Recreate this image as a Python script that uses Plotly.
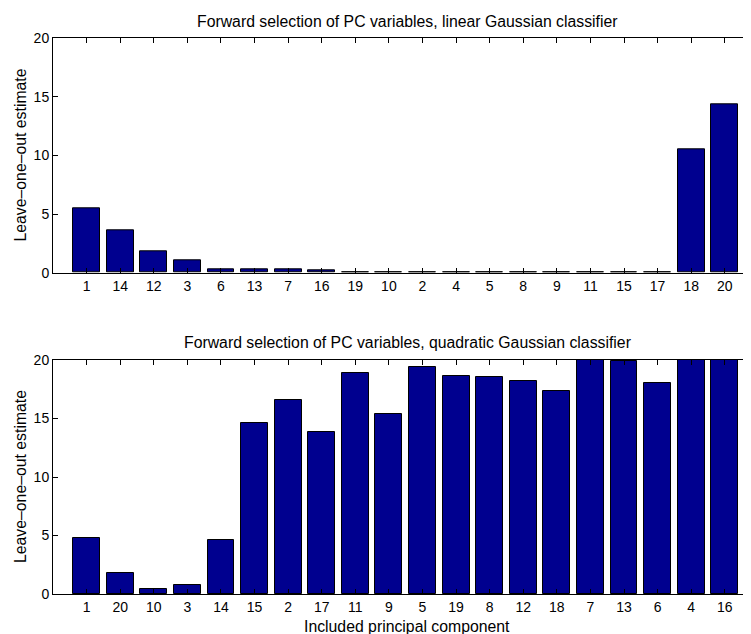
import plotly.graph_objects as go

top_labels = ["1", "14", "12", "3", "6", "13", "7", "16", "19", "10", "2", "4", "5", "8", "9", "11", "15", "17", "18", "20"]
top_values = [5.5, 3.65, 1.83, 1.08, 0.29, 0.29, 0.29, 0.23, 0.03, 0.03, 0.03, 0.03, 0.03, 0.03, 0.03, 0.03, 0.03, 0.03, 10.53, 14.33]

bottom_labels = ["1", "20", "10", "3", "14", "15", "2", "17", "11", "9", "5", "19", "8", "12", "18", "7", "13", "6", "4", "16"]
bottom_values = [4.76, 1.77, 0.40, 0.77, 4.64, 14.62, 16.58, 13.82, 18.86, 15.36, 19.43, 18.66, 18.57, 18.2, 17.38, 21.0, 19.9, 18.06, 21.0, 21.0]

top_title = "Forward selection of PC variables, linear Gaussian classifier"
bottom_title = "Forward selection of PC variables, quadratic Gaussian classifier"
y_title = "Leave\u2013one\u2013out estimate"
x_title = "Included principal component"
y_ticks = [0, 5, 10, 15, 20]

# page body has an 8px margin: figure drawn from (8, 8)
OFF = 8
W, H = 751 - OFF, 634 - OFF
FONT = "Liberation Sans, Arial, Helvetica, sans-serif"
BAR = "#00008F"
TICK_SIZE = 14
TEXT_SIZE = 15.8

fig = go.Figure()
pos_top = list(range(1, len(top_labels) + 1))
pos_bot = list(range(1, len(bottom_labels) + 1))

fig.add_trace(go.Bar(x=pos_top, y=top_values, width=0.8, marker=dict(color=BAR, line=dict(color="black", width=1)),
                     xaxis="x", yaxis="y", showlegend=False))
fig.add_trace(go.Bar(x=pos_bot, y=bottom_values, width=0.8, marker=dict(color=BAR, line=dict(color="black", width=1)),
                     xaxis="x2", yaxis="y2", showlegend=False))

def fy(y_ref):
    return 1 - (y_ref - OFF) / H

def fx(x_ref):
    return (x_ref - OFF - L) / (W - L)

L = 53 - OFF
xrange = [0, (W - L) / 33.59]
top_dom = [fy(272.7), fy(38.3)]
bot_dom = [fy(594), fy(360)]

common_x = dict(range=xrange, tickmode="array", ticks="inside", ticklen=5, tickcolor="black",
                showline=True, linecolor="black", linewidth=1, mirror="ticks", showgrid=False, zeroline=False,
                tickfont=dict(family=FONT, size=TICK_SIZE, color="black"), domain=[0, 1], automargin=False)
common_y = dict(range=[0, 20], tickvals=y_ticks, ticks="inside", ticklen=5, tickcolor="black",
                showline=True, linecolor="black", linewidth=1, showgrid=False, zeroline=False,
                tickfont=dict(family=FONT, size=TICK_SIZE, color="black"), automargin=False)

def ann(text, x, y, angle=0):
    return dict(text=text, xref="paper", yref="paper", x=x, y=y, showarrow=False,
                xanchor="center", yanchor="middle", textangle=angle,
                font=dict(family=FONT, size=TEXT_SIZE, color="black"))

fig.update_layout(
    width=W, height=H,
    margin=dict(l=L, r=0, t=0, b=0),
    paper_bgcolor="white", plot_bgcolor="white",
    xaxis=dict(common_x, tickvals=pos_top, ticktext=top_labels, anchor="y"),
    yaxis=dict(common_y, domain=top_dom, anchor="x"),
    xaxis2=dict(common_x, tickvals=pos_bot, ticktext=bottom_labels, anchor="y2"),
    yaxis2=dict(common_y, domain=bot_dom, anchor="x2"),
    bargap=0,
    annotations=[
        ann(top_title, fx(407), fy(22)),
        ann(bottom_title, fx(407), fy(342)),
        ann(x_title, fx(407), fy(626)),
        ann(y_title, fx(20), fy(155.5), -90),
        ann(y_title, fx(20), fy(477), -90),
    ],
)

fig.write_html("out.html")
